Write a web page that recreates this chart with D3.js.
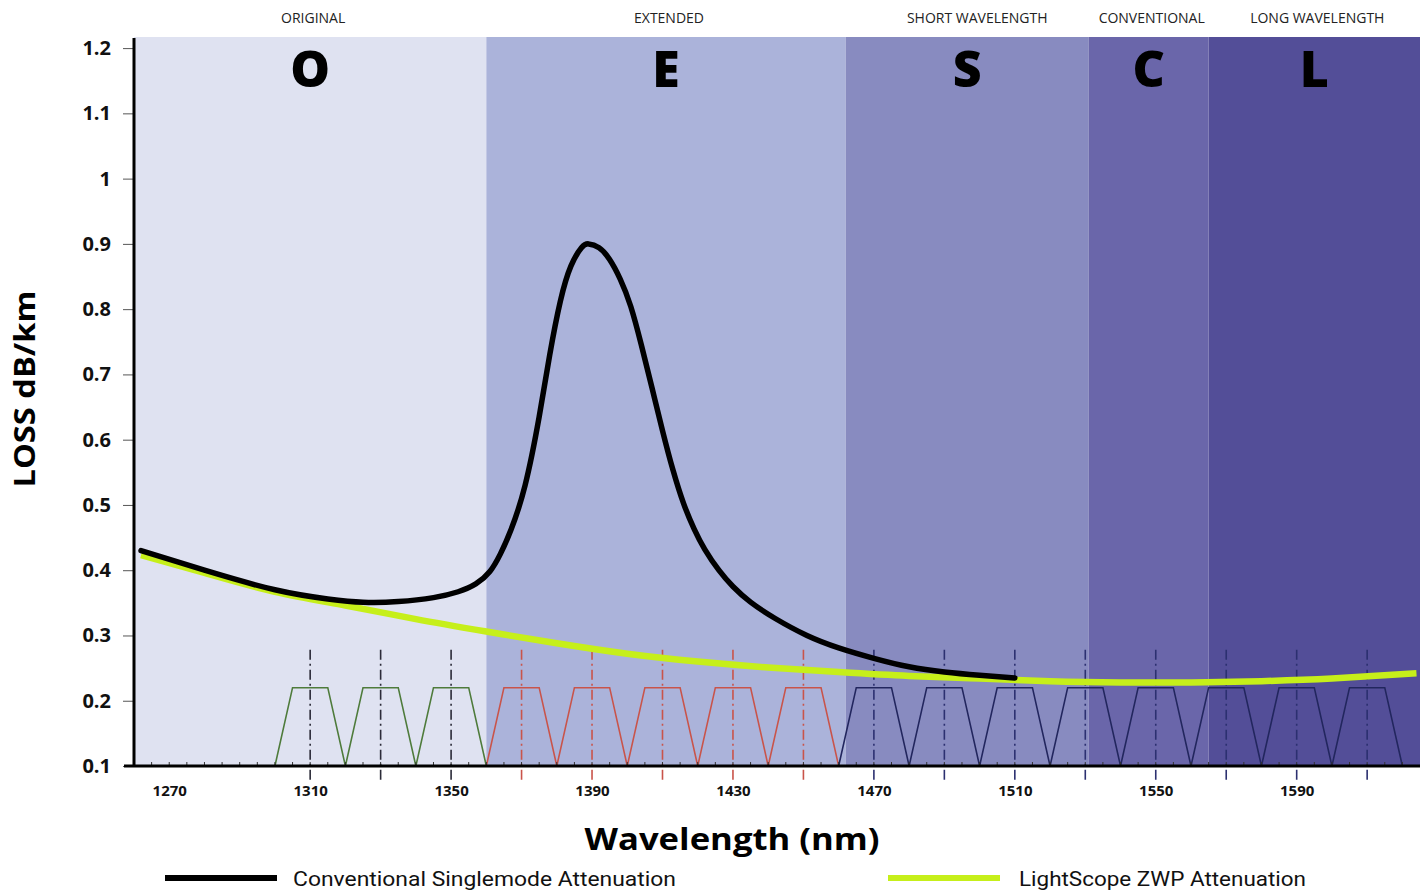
<!DOCTYPE html>
<html>
<head>
<meta charset="utf-8">
<script src="https://cdn.jsdelivr.net/npm/d3@7"></script>
<style>
  html, body { margin: 0; padding: 0; background: #ffffff; }
  svg { display: block; }
</style>
</head>
<body>
<svg id="chart" width="1427" height="892"></svg>
<script>
// ---- data ----
const bandStart = [1260, 1360, 1462, 1531, 1565];
const bandEnd   = [1360, 1462, 1531, 1565, 1625];
const bandLetters = ["O", "E", "S", "C", "L"];
const bandNames = ["ORIGINAL", "EXTENDED", "SHORT WAVELENGTH", "CONVENTIONAL", "LONG WAVELENGTH"];
const bandColors = ["#dfe2f1", "#abb3da", "#888bc0", "#6a66aa", "#534e98"];

const yTicks = [0.1, 0.2, 0.3, 0.4, 0.5, 0.6, 0.7, 0.8, 0.9, 1, 1.1, 1.2];
const xTicks = [1270, 1310, 1350, 1390, 1430, 1470, 1510, 1550, 1590];

const greenChannels = [1310, 1330, 1350];
const redChannels = [1370, 1390, 1410, 1430, 1450];
const blueChannels = [1470, 1490, 1510, 1530, 1550, 1570, 1590, 1610];
const channelTop = 0.22;

const conventionalNm = [1262, 1280, 1300, 1315, 1325, 1335, 1345, 1352, 1357, 1361, 1364, 1367, 1371, 1375, 1378, 1381, 1384, 1387, 1389, 1392, 1395, 1398, 1401, 1404, 1407, 1410, 1413, 1416, 1419, 1422, 1426, 1430, 1435, 1442, 1451, 1460, 1470, 1480, 1490, 1500, 1510];
const conventionalLoss = [0.430, 0.400, 0.370, 0.356, 0.351, 0.352, 0.358, 0.367, 0.379, 0.398, 0.425, 0.462, 0.530, 0.635, 0.730, 0.812, 0.866, 0.894, 0.900, 0.894, 0.876, 0.846, 0.804, 0.745, 0.680, 0.614, 0.553, 0.502, 0.463, 0.432, 0.400, 0.375, 0.351, 0.326, 0.300, 0.281, 0.265, 0.252, 0.244, 0.239, 0.235];

const zwpNm = [1262, 1280, 1300, 1320, 1340, 1360, 1380, 1400, 1420, 1440, 1460, 1480, 1500, 1520, 1540, 1560, 1580, 1600, 1624];
const zwpLoss = [0.423, 0.396, 0.367, 0.346, 0.325, 0.306, 0.288, 0.272, 0.260, 0.251, 0.244, 0.238, 0.234, 0.230, 0.228, 0.228, 0.230, 0.234, 0.242];

const legendLabels = ["Conventional Singlemode Attenuation", "LightScope ZWP Attenuation"];
const legendColors = ["#000000", "#c6ef1a"];

// ---- scales ----
const svg = d3.select("#chart");
const x = d3.scaleLinear().domain([1260, 1625]).range([134, 1420]);
const y = d3.scaleLinear().domain([0.1, 1.217]).range([766, 37]);

// bands
const bands = bandStart.map((s, i) => ({s, e: bandEnd[i], letter: bandLetters[i], name: bandNames[i], color: bandColors[i]}));
svg.append("g").selectAll("rect").data(bands).join("rect")
  .attr("x", d => x(d.s)).attr("width", d => x(d.e) - x(d.s))
  .attr("y", y(1.217)).attr("height", y(0.1) - y(1.217))
  .attr("fill", d => d.color);

svg.append("g").selectAll("text").data(bands).join("text")
  .attr("x", d => (x(d.s) + x(d.e)) / 2).attr("y", 87)
  .attr("text-anchor", "middle")
  .attr("font-family", "Open Sans, sans-serif").attr("font-weight", 800)
  .attr("font-size", 50).attr("fill", "#000")
  .text(d => d.letter);

svg.append("g").selectAll("text").data(bands).join("text")
  .attr("x", (d, i) => (x(d.s) + x(d.e)) / 2 + (i === 2 ? 10 : 3)).attr("y", 23)
  .attr("text-anchor", "middle")
  .attr("font-family", "Open Sans, sans-serif")
  .attr("font-size", 14).attr("fill", "#222")
  .text(d => d.name);

// channel trapezoids
function channelGroup(list, stroke, dashStroke) {
  const g = svg.append("g");
  g.selectAll("path.trap").data(list).join("path")
    .attr("class", "trap")
    .attr("d", c => d3.line()([[x(c - 10), y(0.1)], [x(c - 5), y(channelTop)], [x(c + 5), y(channelTop)], [x(c + 10), y(0.1)]]))
    .attr("fill", "none").attr("stroke", stroke).attr("stroke-width", 1.6);
  g.selectAll("line.cl").data(list).join("line")
    .attr("class", "cl")
    .attr("x1", c => x(c)).attr("x2", c => x(c))
    .attr("y1", y(0.278)).attr("y2", y(0.074))
    .attr("stroke", dashStroke).attr("stroke-width", 1.6)
    .attr("stroke-dasharray", "10,4,2,4");
}
channelGroup(greenChannels, "#4e7b3b", "#2b2b38");
channelGroup(redChannels, "#c9544a", "#c9544a");
channelGroup(blueChannels, "#22265e", "#2c3070");

// curves
const line = d3.line().x(d => x(d[0])).y(d => y(d[1])).curve(d3.curveNatural);
svg.append("path")
  .attr("d", line(zwpNm.map((n, i) => [n, zwpLoss[i]])))
  .attr("fill", "none").attr("stroke", legendColors[1]).attr("stroke-width", 6.5);
svg.append("path")
  .attr("d", line(conventionalNm.map((n, i) => [n, conventionalLoss[i]])))
  .attr("fill", "none").attr("stroke", legendColors[0]).attr("stroke-width", 5.5)
  .attr("stroke-linecap", "round");

// minor x ticks
svg.append("g").selectAll("line").data(d3.range(1265, 1625, 5)).join("line")
  .attr("x1", d => x(d)).attr("x2", d => x(d))
  .attr("y1", y(0.1)).attr("y2", y(0.1) - 4)
  .attr("stroke", "#333").attr("stroke-width", 1);

// y axis
const yAxis = svg.append("g").attr("transform", `translate(${x(1260)},0)`)
  .call(d3.axisLeft(y).tickValues(yTicks).tickFormat(d3.format("~g")).tickSize(11).tickSizeOuter(0).tickPadding(12));
yAxis.select(".domain").remove();
yAxis.selectAll(".tick line").attr("stroke", "#555").attr("stroke-width", 1);
yAxis.selectAll(".tick text")
  .attr("font-family", "Open Sans, sans-serif").attr("font-weight", 700)
  .attr("font-size", 20).attr("fill", "#111");
svg.append("line")
  .attr("x1", x(1260)).attr("x2", x(1260)).attr("y1", y(1.217) + 1).attr("y2", y(0.1))
  .attr("stroke", "#000").attr("stroke-width", 3);

// x axis
const xAxis = svg.append("g").attr("transform", `translate(0,${y(0.1)})`)
  .call(d3.axisBottom(x).tickValues(xTicks).tickFormat(d3.format("d")).tickSize(0).tickPadding(19));
xAxis.select(".domain").remove();
xAxis.selectAll(".tick text")
  .attr("font-family", "Open Sans, sans-serif").attr("font-weight", 700)
  .attr("font-size", 15).attr("fill", "#111");
svg.append("line")
  .attr("x1", x(1260) - 10).attr("x2", x(1625)).attr("y1", y(0.1)).attr("y2", y(0.1))
  .attr("stroke", "#000").attr("stroke-width", 3);

// titles
svg.append("text")
  .attr("x", 732).attr("y", 850).attr("text-anchor", "middle")
  .attr("font-family", "Open Sans, sans-serif").attr("font-weight", 700)
  .attr("font-size", 31).attr("fill", "#000")
  .attr("textLength", 295).attr("lengthAdjust", "spacingAndGlyphs")
  .text("Wavelength (nm)");
svg.append("text")
  .attr("transform", "translate(35,389) rotate(-90)").attr("text-anchor", "middle")
  .attr("font-family", "Open Sans, sans-serif").attr("font-weight", 700)
  .attr("font-size", 28).attr("fill", "#000")
  .attr("textLength", 197).attr("lengthAdjust", "spacingAndGlyphs")
  .text("LOSS dB/km");

// legend
const legX = [165, 888];
const legW = [383, 287];
const leg = svg.append("g").selectAll("g").data(legendLabels).join("g")
  .attr("transform", (d, i) => `translate(${legX[i]},878)`);
leg.append("line").attr("x1", 0).attr("x2", 112).attr("y1", 0).attr("y2", 0)
  .attr("stroke", (d, i) => legendColors[i]).attr("stroke-width", 6);
leg.append("text").attr("x", (d, i) => i === 0 ? 128 : 131).attr("y", 8)
  .attr("font-family", "Roboto, sans-serif").attr("font-size", 21).attr("fill", "#111")
  .attr("textLength", (d, i) => legW[i]).attr("lengthAdjust", "spacingAndGlyphs")
  .text(d => d);
</script>
</body>
</html>
